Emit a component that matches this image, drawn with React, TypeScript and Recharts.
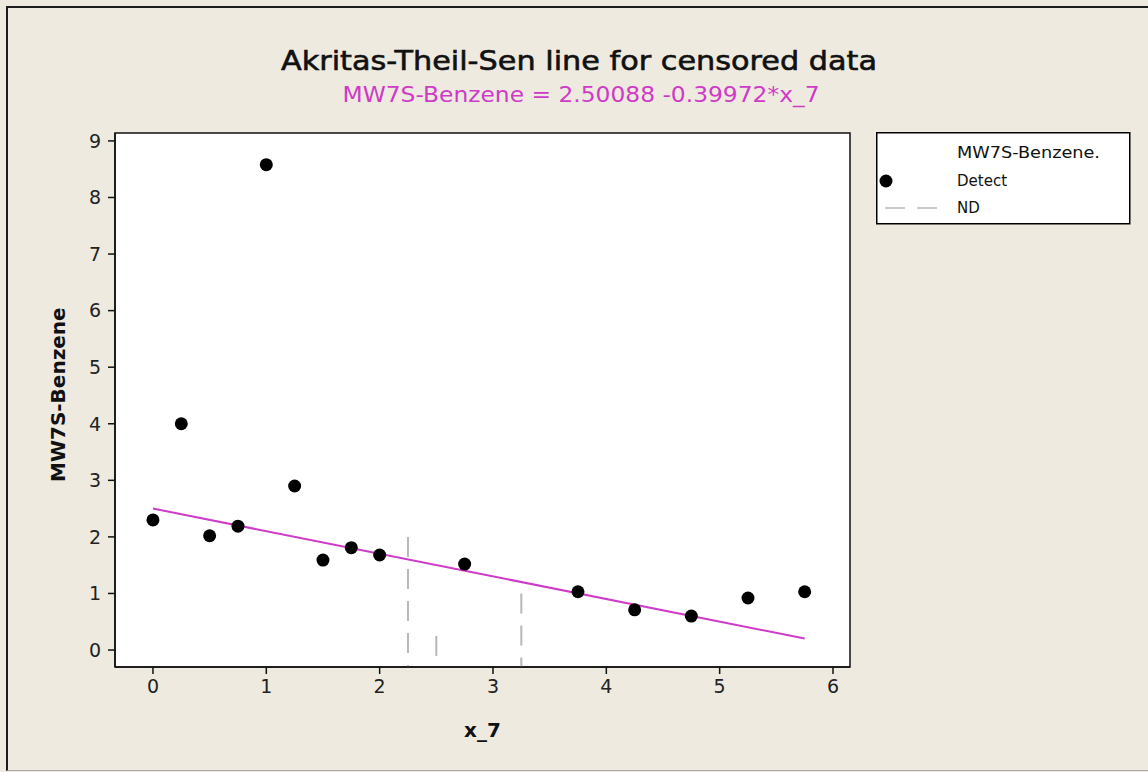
import { ScatterChart, Scatter, XAxis, YAxis, CartesianGrid, ReferenceArea, ReferenceLine } from 'recharts'

// detected observations
const detectX = [0, 0.25, 0.5, 0.75, 1, 1.25, 1.5, 1.75, 2, 2.75, 3.75, 4.25, 4.75, 5.25, 5.75]
const detectY = [2.3, 4.0, 2.02, 2.19, 8.58, 2.9, 1.59, 1.81, 1.68, 1.52, 1.03, 0.71, 0.6, 0.92, 1.03]

// non-detects (censored), drawn as dashed bars up to the detection limit
const ndX = [2.25, 2.5, 3.25]
const ndY = [2.0, 0.25, 1.0]

// ATS line from the fitted equation
const intercept = 2.50088
const slope = -0.39972
const lineX = [0, 5.75]

const xTicks = [0, 1, 2, 3, 4, 5, 6]
const yTicks = [0, 1, 2, 3, 4, 5, 6, 7, 8, 9]
const xDomain: [number, number] = [-0.335, 6.15]
const yDomain: [number, number] = [-0.3, 9.14]

const MAGENTA = '#cf3ac7'
const FONT = '"DejaVu Sans", Verdana, sans-serif'

const points = detectX.map((x, i) => ({ x, y: detectY[i] }))
const trend = lineX.map(x => ({ x, y: intercept + slope * x }))

function Dot(props: any) {
  const { cx, cy } = props
  return <circle cx={cx} cy={cy} r={6.5} fill="#000" />
}

function LegendBox() {
  return (
    <svg width={256} height={94} style={{ position: 'absolute', left: 876, top: 132 }}>
      <rect x={0.75} y={0.75} width={253} height={91} fill="#fff" stroke="#000" strokeWidth={1.5} />
      <text x={81} y={26} fontSize={15} fontFamily={FONT} fill="#111" textLength={143} lengthAdjust="spacingAndGlyphs">MW7S-Benzene.</text>
      <circle cx={10} cy={49} r={6.5} fill="#000" />
      <text x={81} y={54} fontSize={15} fontFamily={FONT} fill="#111">Detect</text>
      <line x1={9} x2={61} y1={76} y2={76} stroke="#b8b8b8" strokeWidth={1.5} strokeDasharray="20 12" />
      <text x={81} y={81} fontSize={15} fontFamily={FONT} fill="#111">ND</text>
    </svg>
  )
}

export default function App() {
  return (
    <div style={{ position: 'absolute', left: 0, top: 0, width: 1148, height: 772, background: '#eeeae0', overflow: 'hidden' }}>
      <div style={{ position: 'absolute', left: 6, top: 6, width: 1160, height: 762, borderLeft: '2px solid #1c1c1c', borderTop: '2px solid #1c1c1c', borderBottom: '1px solid #a8a8a8' }} />
      <svg width={1148} height={120} style={{ position: 'absolute', left: 0, top: 0 }}>
        <text x={579} y={70} textAnchor="middle" fontSize={27} fontFamily={FONT} fill="#111" stroke="#111" strokeWidth={0.6} textLength={596} lengthAdjust="spacingAndGlyphs">
          Akritas-Theil-Sen line for censored data
        </text>
        <text x={581} y={102} textAnchor="middle" fontSize={21} fontFamily={FONT} fill={MAGENTA} textLength={477} lengthAdjust="spacingAndGlyphs">
          MW7S-Benzene = 2.50088 -0.39972*x_7
        </text>
      </svg>
      <div style={{ position: 'absolute', left: 0, top: 0 }}>
        <ScatterChart width={1148} height={772} margin={{ top: 133, right: 298, bottom: 55, left: 55 }}>
          <CartesianGrid horizontal={false} vertical={false} fill="#fff" />
          <XAxis
            type="number"
            dataKey="x"
            domain={xDomain}
            ticks={xTicks}
            allowDataOverflow
            height={50}
            tickSize={7}
            tickMargin={6}
            axisLine={{ stroke: '#111', strokeWidth: 1.5 }}
            tickLine={{ stroke: '#111', strokeWidth: 1.5 }}
            tick={{ fill: '#222', fontSize: 19, fontFamily: FONT }}
            label={{ value: 'x_7', position: 'insideBottom', offset: -20, fontSize: 20, fontWeight: 'bold', fontFamily: FONT, fill: '#111' }}
          />
          <YAxis
            type="number"
            dataKey="y"
            domain={yDomain}
            ticks={yTicks}
            allowDataOverflow
            width={60}
            tickSize={7}
            tickMargin={7}
            axisLine={{ stroke: '#111', strokeWidth: 1.5 }}
            tickLine={{ stroke: '#111', strokeWidth: 1.5 }}
            tick={{ fill: '#222', fontSize: 19, fontFamily: FONT }}
            label={{ value: 'MW7S-Benzene', angle: -90, position: 'insideLeft', offset: 3, dy: 82, fontSize: 20, fontWeight: 'bold', fontFamily: FONT, fill: '#111' }}
          />
          <ReferenceArea x1={xDomain[0]} x2={xDomain[1]} y1={yDomain[0]} y2={yDomain[1]} fill="none" fillOpacity={0} stroke="#111" strokeWidth={1.5} />
          {ndX.map((x, i) => (
            <ReferenceLine
              key={i}
              segment={[{ x, y: ndY[i] }, { x, y: yDomain[0] }]}
              stroke="#b8b8b8"
              strokeWidth={2}
              strokeDasharray="20 12"
            />
          ))}
          <Scatter data={trend} line={{ stroke: MAGENTA, strokeWidth: 2 }} shape={() => <g />} isAnimationActive={false} legendType="none" />
          <Scatter data={points} shape={Dot} isAnimationActive={false} />
        </ScatterChart>
      </div>
      <LegendBox />
    </div>
  )
}
